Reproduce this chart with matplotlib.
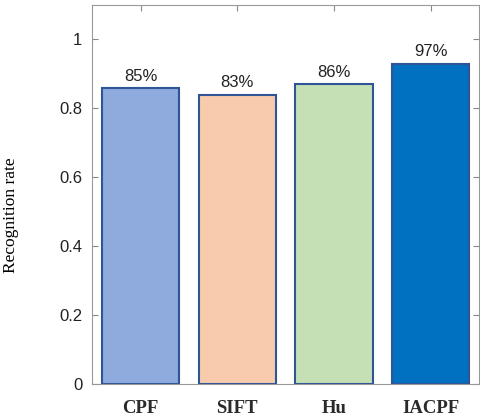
import matplotlib.pyplot as plt

# data
methods = ['CPF', 'SIFT', 'Hu', 'IACPF']
rates = [0.86, 0.84, 0.87, 0.93]
labels = ['85%', '83%', '86%', '97%']
colors = ['#8FAADC', '#F8CBAD', '#C5E0B4', '#0070C0']

fig = plt.figure(figsize=(4.8, 4.19), dpi=100)
ax = fig.add_axes([0.192, 0.084, 0.806, 0.904])

x = range(1, len(methods) + 1)
ax.bar(x, rates, width=0.8, color=colors, edgecolor='#2F5597', linewidth=1.5)

for xi, r, lab in zip(x, rates, labels):
    ax.text(xi, r + 0.012, lab, ha='center', va='bottom',
            fontsize=12, family='Liberation Sans', color='#222222')

ax.set_xlim(0.5, 4.5)
ax.set_ylim(0, 1.1)
ax.set_yticks([0, 0.2, 0.4, 0.6, 0.8, 1])
ax.set_yticklabels(['0', '0.2', '0.4', '0.6', '0.8', '1'],
                   family='Liberation Sans', fontsize=12, color='#222222')
ax.set_xticks(list(x))
ax.set_xticklabels(methods, family='Liberation Serif', fontsize=13.5,
                   fontweight='bold', color='#2a2a2a')
ax.tick_params(axis='x', direction='in', top=True, bottom=False, length=4, pad=12, color='#888888')
ax.tick_params(axis='y', direction='in', right=True, length=4, pad=7, color='#888888')
for s in ax.spines.values():
    s.set_color('#999999')

ax.set_ylabel('Recognition rate', family='Liberation Serif', fontsize=12.5)
ax.yaxis.set_label_coords(-0.19, 0.446)

plt.savefig('out.png')
